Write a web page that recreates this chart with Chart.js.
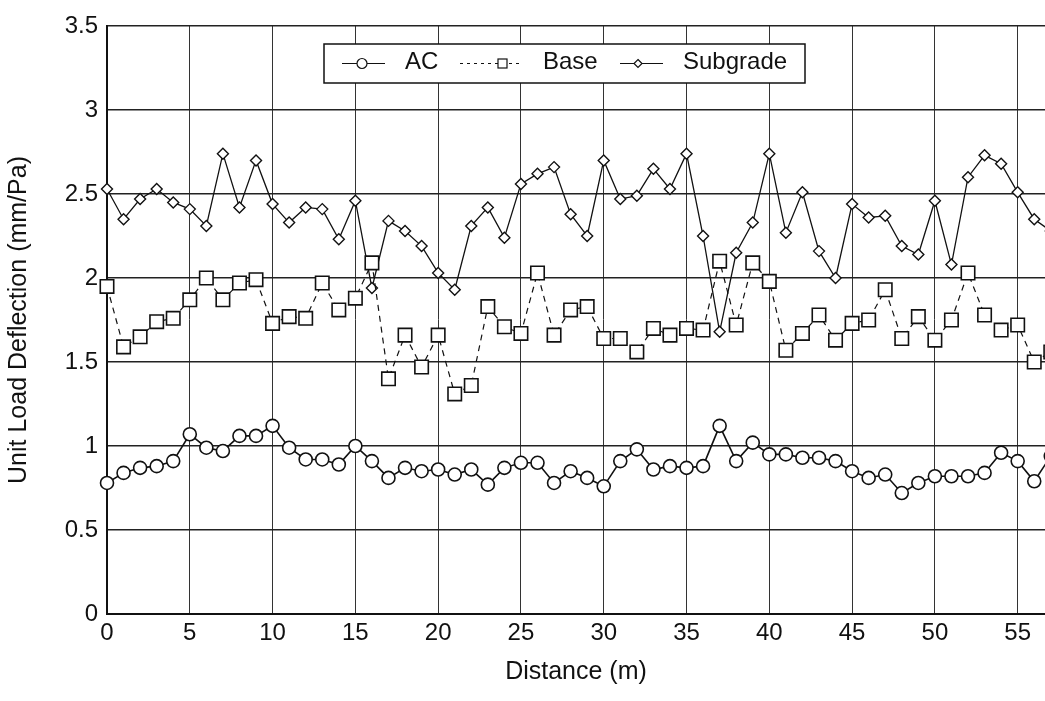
<!DOCTYPE html>
<html>
<head>
<meta charset="utf-8">
<script src="https://cdn.jsdelivr.net/npm/chart.js@4"></script>
<style>
  html, body { margin: 0; padding: 0; background: #fff; }
  #wrap { width: 1045px; height: 701px; }
</style>
</head>
<body>
<div id="wrap"><canvas id="deflection" width="1045" height="701"></canvas></div>
<script>
const distance = [0, 1, 2, 3, 4, 5, 6, 7, 8, 9, 10, 11, 12, 13, 14, 15, 16, 17, 18, 19,
  20, 21, 22, 23, 24, 25, 26, 27, 28, 29, 30, 31, 32, 33, 34, 35, 36, 37, 38, 39,
  40, 41, 42, 43, 44, 45, 46, 47, 48, 49, 50, 51, 52, 53, 54, 55, 56, 57];

const acValues = [0.78, 0.84, 0.87, 0.88, 0.91, 1.07, 0.99, 0.97, 1.06, 1.06,
  1.12, 0.99, 0.92, 0.92, 0.89, 1.0, 0.91, 0.81, 0.87, 0.85,
  0.86, 0.83, 0.86, 0.77, 0.87, 0.9, 0.9, 0.78, 0.85, 0.81,
  0.76, 0.91, 0.98, 0.86, 0.88, 0.87, 0.88, 1.12, 0.91, 1.02,
  0.95, 0.95, 0.93, 0.93, 0.91, 0.85, 0.81, 0.83, 0.72, 0.78,
  0.82, 0.82, 0.82, 0.84, 0.96, 0.91, 0.79, 0.94];

const baseValues = [1.95, 1.59, 1.65, 1.74, 1.76, 1.87, 2.0, 1.87, 1.97, 1.99,
  1.73, 1.77, 1.76, 1.97, 1.81, 1.88, 2.09, 1.4, 1.66, 1.47,
  1.66, 1.31, 1.36, 1.83, 1.71, 1.67, 2.03, 1.66, 1.81, 1.83,
  1.64, 1.64, 1.56, 1.7, 1.66, 1.7, 1.69, 2.1, 1.72, 2.09,
  1.98, 1.57, 1.67, 1.78, 1.63, 1.73, 1.75, 1.93, 1.64, 1.77,
  1.63, 1.75, 2.03, 1.78, 1.69, 1.72, 1.5, 1.56];

const subgradeValues = [2.53, 2.35, 2.47, 2.53, 2.45, 2.41, 2.31, 2.74, 2.42, 2.7,
  2.44, 2.33, 2.42, 2.41, 2.23, 2.46, 1.94, 2.34, 2.28, 2.19,
  2.03, 1.93, 2.31, 2.42, 2.24, 2.56, 2.62, 2.66, 2.38, 2.25,
  2.7, 2.47, 2.49, 2.65, 2.53, 2.74, 2.25, 1.68, 2.15, 2.33,
  2.74, 2.27, 2.51, 2.16, 2.0, 2.44, 2.36, 2.37, 2.19, 2.14,
  2.46, 2.08, 2.6, 2.73, 2.68, 2.51, 2.35, 2.28];

const xTicks = [0, 5, 10, 15, 20, 25, 30, 35, 40, 45, 50, 55];
const yTicks = [0, 0.5, 1, 1.5, 2, 2.5, 3, 3.5];

const FONT = "'Liberation Sans', Arial, sans-serif";

function pairs(values) {
  return values.map((v, i) => ({ x: distance[i], y: v }));
}

// legend box drawn inside the plot, like the original
const boxLegend = {
  id: "boxLegend",
  afterDraw(chart) {
    const ctx = chart.ctx;
    ctx.save();
    ctx.fillStyle = "#fff";
    ctx.fillRect(324, 44, 481, 39);
    ctx.strokeStyle = "#111";
    ctx.lineWidth = 1.5;
    ctx.strokeRect(324, 44, 481, 39);

    const y = 63.5;
    ctx.lineWidth = 1.2;
    // AC
    ctx.beginPath(); ctx.moveTo(342, y); ctx.lineTo(385, y); ctx.stroke();
    ctx.beginPath(); ctx.arc(362, y, 5, 0, Math.PI * 2);
    ctx.fillStyle = "#fff"; ctx.fill(); ctx.stroke();
    // Base
    ctx.setLineDash([3, 4]);
    ctx.beginPath(); ctx.moveTo(460, y); ctx.lineTo(523, y); ctx.stroke();
    ctx.setLineDash([]);
    ctx.fillRect(498, y - 4.5, 9, 9); ctx.strokeRect(498, y - 4.5, 9, 9);
    // Subgrade
    ctx.beginPath(); ctx.moveTo(620, y); ctx.lineTo(663, y); ctx.stroke();
    ctx.beginPath();
    ctx.moveTo(638, y - 4); ctx.lineTo(642, y); ctx.lineTo(638, y + 4); ctx.lineTo(634, y);
    ctx.closePath(); ctx.fill(); ctx.stroke();

    ctx.fillStyle = "#111";
    ctx.font = "24px " + FONT;
    ctx.textBaseline = "middle";
    ctx.fillText("AC", 405, 62);
    ctx.fillText("Base", 543, 62);
    ctx.fillText("Subgrade", 683, 62);
    ctx.restore();
  }
};

const ctx = document.getElementById("deflection").getContext("2d");
const deflectionChart = new Chart(ctx, {
  type: "line",
  data: {
    datasets: [
      {
        label: "AC",
        data: pairs(acValues),
        borderColor: "#111",
        borderWidth: 1.6,
        pointStyle: "circle",
        pointRadius: 6.5,
        pointBackgroundColor: "#fff",
        pointBorderColor: "#111",
        pointBorderWidth: 1.6,
        clip: false,
      },
      {
        label: "Base",
        data: pairs(baseValues),
        borderColor: "#111",
        borderWidth: 1.2,
        borderDash: [6, 5],
        pointStyle: "rect",
        pointRadius: 9.5,
        pointBackgroundColor: "#fff",
        pointBorderColor: "#111",
        pointBorderWidth: 1.6,
        clip: false,
      },
      {
        label: "Subgrade",
        data: pairs(subgradeValues),
        borderColor: "#111",
        borderWidth: 1.3,
        pointStyle: "rectRot",
        pointRadius: 5.5,
        pointBackgroundColor: "#fff",
        pointBorderColor: "#111",
        pointBorderWidth: 1.4,
        clip: false,
      },
    ],
  },
  options: {
    responsive: false,
    animation: false,
    layout: { autoPadding: false, padding: { top: 26, left: 0, right: 0, bottom: 0 } },
    plugins: {
      legend: { display: false },
      tooltip: { enabled: false },
    },
    scales: {
      x: {
        type: "linear",
        min: 0,
        max: 56.65,
        afterFit: (scale) => {
          scale.height = 87;
          scale.paddingLeft = 0;
          scale.paddingRight = 0;
        },
        afterBuildTicks: (scale) => { scale.ticks = xTicks.map((v) => ({ value: v })); },
        ticks: {
          includeBounds: false,
          color: "#111",
          padding: 5,
          font: { family: FONT, size: 24 },
        },
        grid: { color: "#333", lineWidth: 1, drawTicks: false },
        border: { color: "#111", width: 2 },
        title: {
          display: true,
          text: "Distance (m)",
          color: "#111",
          font: { family: FONT, size: 25 },
          padding: { top: 0, bottom: 14 },
        },
      },
      y: {
        min: 0,
        max: 3.5,
        afterFit: (scale) => { scale.width = 107; },
        afterBuildTicks: (scale) => { scale.ticks = yTicks.map((v) => ({ value: v })); },
        ticks: {
          color: "#111",
          padding: 9,
          font: { family: FONT, size: 24 },
          callback: (v) => String(v),
        },
        grid: { color: "#222", lineWidth: 1.5, drawTicks: false },
        border: { color: "#111", width: 2 },
        title: {
          display: true,
          text: "Unit Load Deflection (mm/Pa)",
          color: "#111",
          font: { family: FONT, size: 25 },
          padding: { top: 4, bottom: 0 },
        },
      },
    },
  },
  plugins: [boxLegend],
});
</script>
</body>
</html>
